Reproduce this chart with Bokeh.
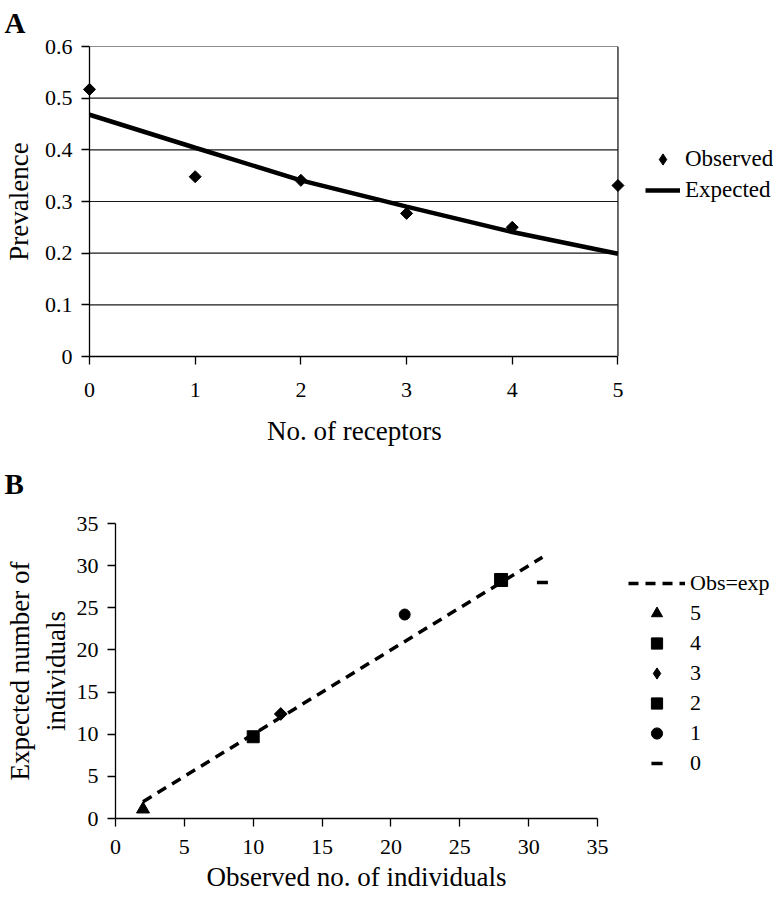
import math
from bokeh.plotting import figure
from bokeh.layouts import column
from bokeh.models import (Legend, LegendItem, Title, FixedTicker,
                          CustomJSTickFormatter, Range1d)
from bokeh.embed import file_html
from bokeh.resources import INLINE

FONT = "Liberation Serif"

# ---------------- Panel A data ----------------
receptors = [0, 1, 2, 3, 4, 5]
observed_prev = [0.517, 0.348, 0.341, 0.277, 0.250, 0.331]
expected_prev = [0.468, 0.404, 0.341, 0.290, 0.241, 0.199]
a_yticks = [0, 0.1, 0.2, 0.3, 0.4, 0.5, 0.6]
a_xticks = [0, 1, 2, 3, 4, 5]

# ---------------- Panel B data ----------------
b_groups = ["5", "4", "3", "2", "1", "0"]
b_observed = [2, 28, 12, 10, 21, 31]
b_expected = [1.1, 28.3, 12.4, 9.7, 24.2, 28.0]
b_markers = ["triangle", "square", "square", "square", "circle", "dash"]
b_legend_markers = ["triangle", "square", "diamond", "square", "circle", "dash"]
b_angles = [0, 0, 45, 0, 0, 0]
b_sizes = [13, 13, 9, 12, 11, 11]
diag_x = [2, 31]
diag_y = [2, 31]
b_ticks = [0, 5, 10, 15, 20, 25, 30, 35]

W = 773
# frame geometry (pixels) for each panel
A_LEFT, A_TOP, A_FW, A_FH, A_H = 87, 46, 530, 310, 510
B_LEFT, B_TOP, B_FW, B_FH, B_H = 115, 13, 482, 295, 388
NAN = float("nan")


def style_axes(p):
    for ax in (p.xaxis[0], p.yaxis[0]):
        ax.axis_line_color = "black"
        ax.axis_line_width = 1.3
        ax.major_tick_line_color = "black"
        ax.major_tick_line_width = 1.3
        ax.major_tick_in = 0
        ax.major_tick_out = 8
        ax.minor_tick_line_color = None
        ax.major_label_text_font = FONT
        ax.major_label_text_font_size = "22px"
        ax.major_label_text_color = "black"
        ax.axis_label_text_font = FONT
        ax.axis_label_text_font_size = "27px"
        ax.axis_label_text_font_style = "normal"
        ax.axis_label_text_color = "black"
    p.xgrid.grid_line_color = None
    p.ygrid.grid_line_color = None
    p.outline_line_color = None


def text_title(text, offset, standoff, size, bold, valign):
    return Title(text=text, align="left", offset=offset, standoff=standoff,
                 vertical_align=valign, text_font=FONT,
                 text_font_style="bold" if bold else "normal",
                 text_font_size=size, text_color="black")


# ================= Panel A =================
a_xmax = a_xticks[-1]
a_xend = a_xmax * (W - A_LEFT) / A_FW      # frame runs to the right edge
pA = figure(width=W, height=A_H, output_backend="svg", toolbar_location=None,
            x_range=Range1d(0, a_xend), y_range=Range1d(0, a_yticks[-1]),
            min_border_left=A_LEFT, min_border_right=0,
            min_border_top=A_TOP, min_border_bottom=A_H - A_TOP - A_FH)
pA.frame_align = False
pA.xaxis.ticker = FixedTicker(ticks=a_xticks)
pA.xaxis.bounds = (a_xticks[0], a_xmax)
pA.yaxis.ticker = FixedTicker(ticks=a_yticks)
pA.yaxis.formatter = CustomJSTickFormatter(
    code="return tick == 0 ? '0' : tick.toFixed(1);")
pA.yaxis.axis_label = "Prevalence"
style_axes(pA)
pA.xaxis.major_label_standoff = 18
pA.yaxis.major_label_standoff = 9
pA.yaxis.axis_label_standoff = 8

# horizontal gridlines and right border of the plotting box
pA.segment(x0=[a_xticks[0]] * len(a_yticks), x1=[a_xmax] * len(a_yticks),
           y0=a_yticks, y1=a_yticks, line_color="#1a1a1a", line_width=1.2)
pA.segment(x0=[a_xmax], x1=[a_xmax], y0=[a_yticks[0]], y1=[a_yticks[-1]],
           line_color="#1a1a1a", line_width=1.3)

line_a = pA.line(receptors, expected_prev, line_color="black", line_width=4.5)
pts_a = pA.scatter(receptors, observed_prev, marker="square", angle=math.pi / 4,
                   size=8.5, fill_color="black", line_color="black",
                   level="overlay")
# legend-only glyph (diamond shape, nothing drawn on the plot)
leg_a_marker = pA.scatter([NAN], [NAN], marker="diamond", fill_color="black",
                          line_color="black")

legA = Legend(items=[LegendItem(label="Observed", renderers=[leg_a_marker]),
                     LegendItem(label="Expected", renderers=[line_a])],
              location=(643 - A_LEFT, A_TOP + A_FH - 204),
              orientation="vertical",
              glyph_width=35, glyph_height=28, label_height=20, spacing=3,
              padding=0, margin=0, label_standoff=5,
              border_line_alpha=0, background_fill_alpha=0,
              label_text_font=FONT, label_text_font_size="23px",
              label_text_color="black")
pA.add_layout(legA)
pA.add_layout(text_title("A", -A_LEFT + 2, 12, "29px", True, "top"), "above")
# x-axis title, centred under the plotted box (x = 0..5)
pA.add_layout(text_title("No. of receptors", A_FW / 2 - 175 / 2, 30, "27px",
                         False, "middle"), "below")
# panel letter of the lower chart (sits in the gap between the two charts)
pA.add_layout(text_title("B", -A_LEFT + 2, 8, "29px", True, "bottom"),
              "below")

# ================= Panel B =================
b_xmax = b_ticks[-1]
b_xend = b_xmax * (W - B_LEFT) / B_FW
pB = figure(width=W, height=B_H, output_backend="svg", toolbar_location=None,
            x_range=Range1d(0, b_xend), y_range=Range1d(0, b_ticks[-1]),
            min_border_left=B_LEFT, min_border_right=0,
            min_border_top=B_TOP, min_border_bottom=B_H - B_TOP - B_FH)
pB.frame_align = False
pB.xaxis.ticker = FixedTicker(ticks=b_ticks)
pB.xaxis.bounds = (b_ticks[0], b_xmax)
pB.yaxis.ticker = FixedTicker(ticks=b_ticks)
pB.yaxis.axis_label = "Expected number of\nindividuals"
style_axes(pB)
pB.xaxis.major_label_standoff = 13
pB.yaxis.major_label_standoff = 9
pB.yaxis.axis_label_standoff = 3

diag = pB.line(diag_x, diag_y, line_color="black", line_width=3.5,
               line_dash="10 7")
b_items = [LegendItem(label="Obs=exp", renderers=[diag])]
for g, xo, ye, mk, lmk, ang, sz in zip(b_groups, b_observed, b_expected,
                                      b_markers, b_legend_markers, b_angles,
                                      b_sizes):
    lw = 3.5 if mk == "dash" else 1
    r = pB.scatter([xo], [ye], marker=mk, angle=math.radians(ang), size=sz,
                   fill_color="black", line_color="black", line_width=lw)
    if lmk != mk:
        r = pB.scatter([NAN], [NAN], marker=lmk, fill_color="black",
                       line_color="black")
    b_items.append(LegendItem(label=g, renderers=[r]))

# legend bottom sits at page y = 777; panel B starts at page y = A_H
legB = Legend(items=b_items,
              location=(628 - B_LEFT, (B_TOP + B_FH) - (777 - A_H)),
              orientation="vertical",
              glyph_width=57, glyph_height=28, label_height=28, spacing=2,
              padding=0, margin=0, label_standoff=5,
              border_line_alpha=0, background_fill_alpha=0,
              label_text_font=FONT, label_text_font_size="22px",
              label_text_color="black")
pB.add_layout(legB)
pB.add_layout(text_title("Observed no. of individuals", B_FW / 2 - 300 / 2, 8,
                         "27px", False, "middle"), "below")

layout = column(pA, pB, spacing=0)
open("out.html", "w").write(file_html(layout, INLINE))
